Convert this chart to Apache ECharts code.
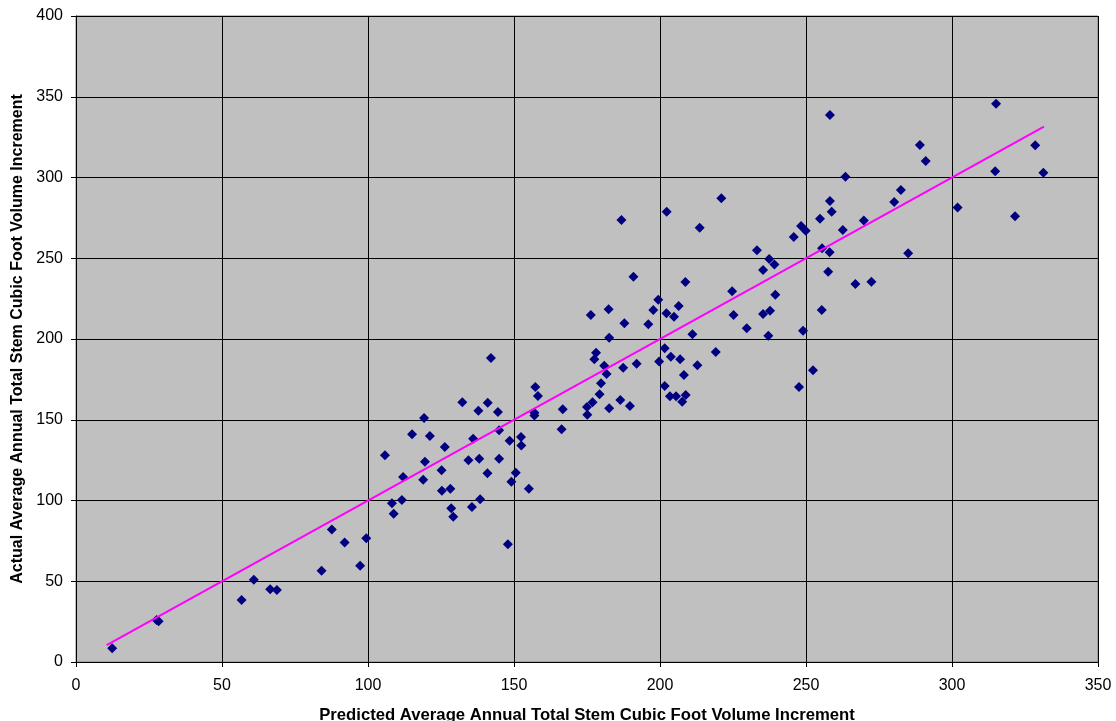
<!DOCTYPE html>
<html>
<head>
<meta charset="utf-8">
<script src="https://cdn.jsdelivr.net/npm/echarts@6/dist/echarts.min.js"></script>
<style>
  html, body { margin: 0; padding: 0; background: #fff; }
  #chart { width: 1116px; height: 721px; }
</style>
</head>
<body>
<div id="chart"></div>
<script>
// Predicted vs. actual average annual total stem cubic foot volume increment
const predicted = [
  12.4, 27.6, 28.3, 56.7, 60.9, 66.5, 68.8, 84.1, 87.6, 92.0,
  97.3, 99.4, 105.8, 108.2, 108.8, 111.6, 112.0, 115.1, 118.9, 119.2,
  119.5, 121.2, 125.2, 125.3, 126.3, 128.2, 128.5, 129.2, 132.3, 134.4,
  135.6, 136.0, 137.8, 138.1, 138.4, 140.9, 141.0, 142.1, 144.5, 144.9,
  144.9, 147.9, 148.5, 149.1, 150.6, 152.4, 152.5, 155.1, 157.0, 157.0,
  157.3, 158.2, 166.3, 166.7, 175.0, 175.1, 176.3, 176.9, 177.5, 178.1,
  179.3, 179.8, 180.9, 181.7, 182.4, 182.6, 182.6, 186.4, 186.8, 187.4,
  187.8, 189.7, 190.9, 192.0, 196.0, 197.7, 199.4, 199.7, 201.6, 201.6,
  202.2, 202.3, 203.4, 203.7, 204.8, 205.5, 206.4, 206.9, 207.6, 208.2,
  208.7, 208.8, 211.1, 212.8, 213.6, 219.1, 221.0, 224.7, 225.2, 229.7,
  233.2, 235.3, 235.3, 237.1, 237.4, 237.7, 239.2, 239.5, 245.8, 247.6,
  248.3, 249.0, 249.9, 252.4, 254.8, 255.4, 255.5, 257.6, 258.1, 258.2,
  258.2, 258.8, 262.6, 263.5, 266.9, 269.8, 272.4, 280.2, 282.5, 285.0,
  289.0, 291.0, 301.9, 314.8, 315.1, 321.6, 328.5, 331.3
];
const actual = [
  8.5, 26.0, 25.3, 38.4, 51.0, 45.0, 44.6, 56.5, 82.0, 74.0,
  59.6, 76.6, 128.0, 98.3, 91.8, 100.3, 114.6, 141.0, 112.9, 151.1,
  124.0, 139.9, 118.7, 106.1, 133.1, 107.3, 95.2, 90.0, 160.8, 124.9,
  96.0, 138.3, 155.6, 125.9, 100.7, 116.8, 160.6, 188.2, 154.8, 143.5,
  125.9, 72.9, 137.0, 111.6, 117.2, 139.3, 134.0, 107.3, 154.4, 152.7,
  170.3, 164.7, 144.1, 156.5, 157.9, 153.1, 214.9, 160.8, 187.4, 191.5,
  165.8, 172.6, 183.5, 178.3, 218.4, 200.8, 157.1, 162.2, 273.7, 182.2,
  209.7, 158.5, 238.6, 184.7, 209.1, 218.0, 224.3, 186.0, 194.2, 170.9,
  215.9, 278.8, 164.5, 189.0, 213.8, 164.5, 220.4, 187.4, 161.2, 177.7,
  235.3, 165.3, 202.9, 183.7, 268.9, 192.0, 287.1, 229.5, 214.9, 206.6,
  254.9, 242.7, 215.5, 202.0, 249.5, 217.5, 246.2, 227.4, 263.2, 170.3,
  270.0, 205.1, 267.1, 180.6, 274.5, 218.0, 256.2, 241.7, 253.7, 338.7,
  285.4, 278.8, 267.5, 300.5, 234.1, 273.3, 235.5, 284.8, 292.3, 253.1,
  320.1, 310.2, 281.5, 303.8, 345.7, 276.0, 319.9, 303.0
];
// One-to-one reference line endpoints
const oneToOne = [10.5, 331.5];

const xTitle = 'Predicted Average Annual Total Stem Cubic Foot Volume Increment';
const yTitle = 'Actual Average Annual Total Stem Cubic Foot Volume Increment';

const points = predicted.map((p, i) => [p, actual[i]]);
const lineData = oneToOne.map(v => [v, v]);

const chart = echarts.init(document.getElementById('chart'), null, { renderer: 'canvas' });
const font = 'Liberation Sans, Arial, sans-serif';

chart.setOption({
  animation: false,
  backgroundColor: '#ffffff',
  grid: {
    left: 76, right: 18, top: 16, bottom: 59,
    containLabel: false,
    outerBoundsMode: 'none',
    show: true,
    backgroundColor: '#C0C0C0',
    borderColor: '#808080',
    borderWidth: 1
  },
  xAxis: {
    type: 'value',
    min: 0, max: 350, interval: 50,
    name: xTitle,
    nameLocation: 'middle',
    nameGap: 45,
    nameTextStyle: { fontFamily: font, fontWeight: 'bold', fontSize: 16.7, color: '#000' },
    axisLine: { onZero: false, lineStyle: { color: '#000', width: 1 } },
    axisTick: { show: true, length: 5, inside: false, lineStyle: { color: '#000' } },
    axisLabel: { fontFamily: font, fontSize: 16, color: '#000', margin: 16 },
    splitLine: { show: true, lineStyle: { color: '#000', width: 1 } }
  },
  yAxis: {
    type: 'value',
    min: 0, max: 400, interval: 50,
    name: yTitle,
    nameLocation: 'middle',
    nameGap: 50,
    nameRotate: 90,
    nameTextStyle: { fontFamily: font, fontWeight: 'bold', fontSize: 16, color: '#000' },
    axisLine: { show: true, onZero: false, lineStyle: { color: '#000', width: 1 } },
    axisTick: { show: true, length: 5, inside: false, lineStyle: { color: '#000' } },
    axisLabel: { fontFamily: font, fontSize: 16, color: '#000', margin: 13 },
    splitLine: { show: true, lineStyle: { color: '#000', width: 1 } }
  },
  series: [
    {
      type: 'scatter',
      data: points,
      symbol: 'diamond',
      symbolSize: [10, 10],
      itemStyle: { color: '#000080', opacity: 1 },
      z: 3
    },
    {
      type: 'line',
      data: lineData,
      symbol: 'none',
      lineStyle: { color: '#FF00FF', width: 2 },
      z: 4
    }
  ]
});
</script>
</body>
</html>
